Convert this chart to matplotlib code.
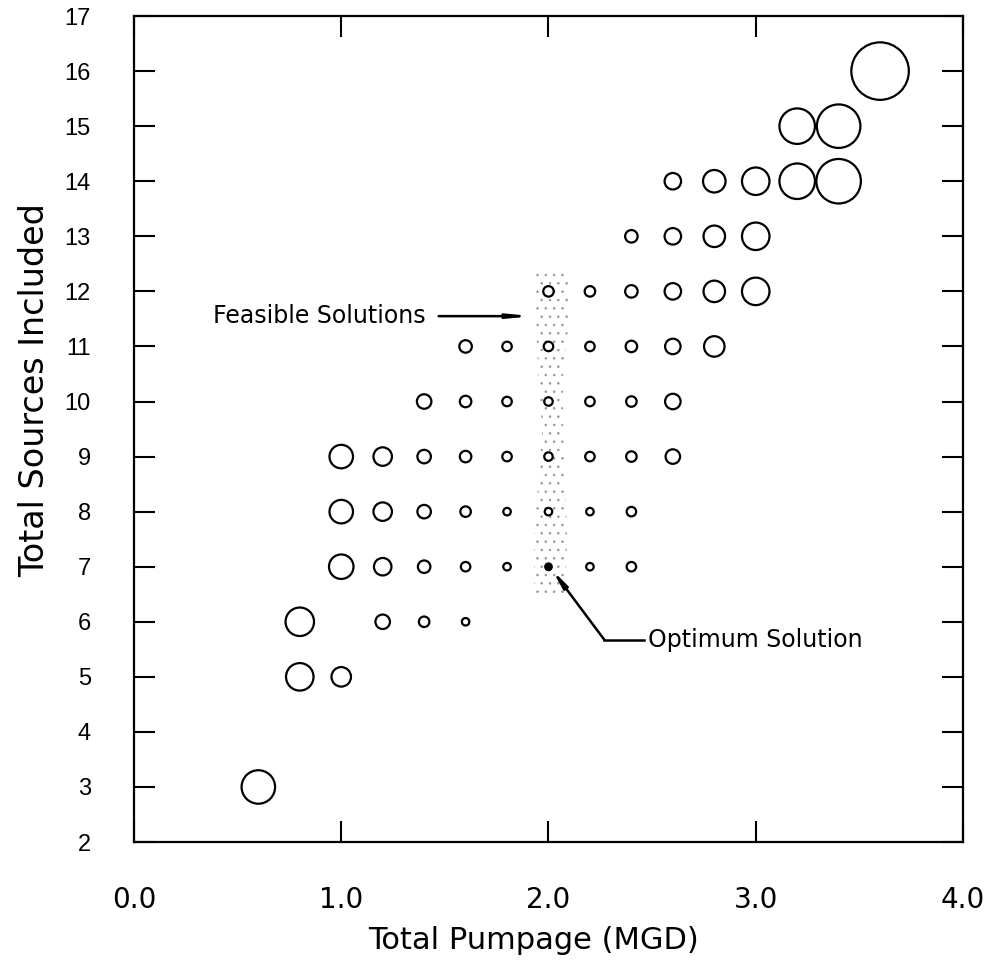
import matplotlib.pyplot as plt
import numpy as np

# total pumpage (MGD) and number of sources for each evaluated design,
# with the bubble diameter (relative, px)
pumpage = [0.6,
           0.8, 1.0,
           0.8, 1.2, 1.4, 1.6,
           1.0, 1.2, 1.4, 1.6, 1.8, 2.0, 2.2, 2.4,
           1.0, 1.2, 1.4, 1.6, 1.8, 2.0, 2.2, 2.4,
           1.0, 1.2, 1.4, 1.6, 1.8, 2.0, 2.2, 2.4, 2.6,
           1.4, 1.6, 1.8, 2.0, 2.2, 2.4, 2.6,
           1.6, 1.8, 2.0, 2.2, 2.4, 2.6, 2.8,
           2.0, 2.2, 2.4, 2.6, 2.8, 3.0,
           2.4, 2.6, 2.8, 3.0,
           2.6, 2.8, 3.0, 3.2, 3.4,
           3.2, 3.4,
           3.6]
sources = [3,
           5, 5,
           6, 6, 6, 6,
           7, 7, 7, 7, 7, 7, 7, 7,
           8, 8, 8, 8, 8, 8, 8, 8,
           9, 9, 9, 9, 9, 9, 9, 9, 9,
           10, 10, 10, 10, 10, 10, 10,
           11, 11, 11, 11, 11, 11, 11,
           12, 12, 12, 12, 12, 12,
           13, 13, 13, 13,
           14, 14, 14, 14, 14,
           15, 15,
           16]
bubble = [35,
          29, 21,
          30, 16, 12, 9,
          26, 19, 14, 11, 9, 8, 9, 11,
          25, 20, 15, 12, 9, 9, 9, 11,
          25, 20, 15, 13, 11, 10, 11, 12, 16,
          16, 13, 11, 10, 11, 12, 17,
          14, 11, 11, 11, 13, 17, 22,
          12, 12, 14, 18, 23, 29,
          14, 18, 23, 29,
          18, 24, 29, 37, 46,
          37, 45,
          59]

optimum = (2.0, 7)

# outline of the shaded feasible band
band_y = [6.5, 7.5, 8.5, 9.5, 10.5, 11.5, 12.4]
band_left = [1.93, 1.93, 1.95, 1.97, 1.95, 1.94, 1.94]
band_right = [2.08, 2.09, 2.08, 2.07, 2.07, 2.10, 2.10]

plt.rcParams['hatch.linewidth'] = 0.6
plt.rcParams['hatch.color'] = '0.6'

fig = plt.figure(figsize=(9.94, 9.72), dpi=100)
ax = fig.add_axes([0.1348, 0.1337, 0.834, 0.8498])

ax.fill_betweenx(band_y, band_left, band_right, facecolor='none',
                 edgecolor='0.6', hatch='..', linewidth=0)

d = np.array(bubble) - 1.5
sizes = (d * 0.72) ** 2
ax.scatter(pumpage, sources, s=sizes, facecolors='white', edgecolors='black',
           linewidths=1.6, zorder=3)
ax.scatter([optimum[0]], [optimum[1]], s=(6 * 0.72) ** 2, color='black', zorder=4)

# annotations
ax.annotate('', xy=(1.92, 11.55), xytext=(1.47, 11.55),
            arrowprops=dict(arrowstyle='-|>,head_length=1.2,head_width=0.12',
                            color='black', lw=1.8, shrinkA=0, shrinkB=0))
ax.text(0.38, 11.55, 'Feasible Solutions', fontsize=17, ha='left', va='center',
        family='DejaVu Sans')

ax.plot([2.27, 2.46], [5.67, 5.67], color='black', lw=1.8)
ax.annotate('', xy=(2.02, 6.93), xytext=(2.27, 5.67),
            arrowprops=dict(arrowstyle='-|>,head_length=1.0,head_width=0.15',
                            color='black', lw=1.8, shrinkA=0, shrinkB=0))
ax.text(2.48, 5.67, 'Optimum Solution', fontsize=17, ha='left', va='center',
        family='DejaVu Sans')

ax.set_xlim(0, 4)
ax.set_ylim(2, 17)
ax.set_xticks([0, 1, 2, 3, 4])
ax.set_xticklabels(['0.0', '1.0', '2.0', '3.0', '4.0'], fontsize=20,
                   family='DejaVu Sans')
ax.set_yticks(range(2, 18))
ax.set_yticklabels([str(v) for v in range(2, 18)], fontsize=17,
                   family='Liberation Sans')
ax.tick_params(direction='in', length=15, width=1.5, top=True, right=True)
ax.tick_params(axis='x', pad=32)
ax.tick_params(axis='y', pad=31)
for sp in ax.spines.values():
    sp.set_linewidth(1.6)

ax.set_xlabel('Total Pumpage (MGD)', fontsize=22, family='DejaVu Sans',
              labelpad=8, x=0.4825)
ax.set_ylabel('Total Sources Included', fontsize=24, family='DejaVu Sans',
              labelpad=10, y=0.547)

fig.savefig('out.png', dpi=100)
